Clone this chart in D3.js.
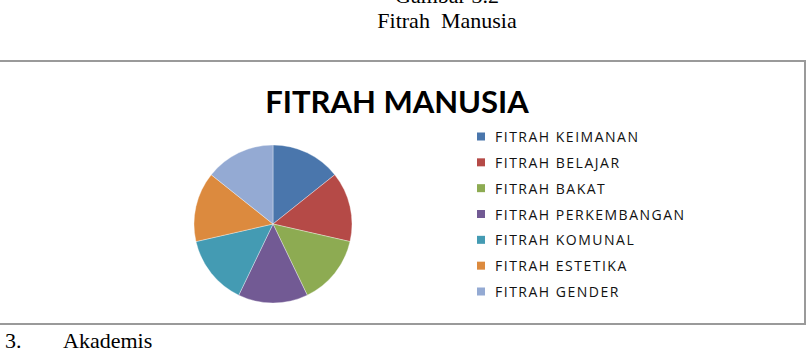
<!DOCTYPE html>
<html>
<head>
<meta charset="utf-8">
<script src="https://cdn.jsdelivr.net/npm/d3@7"></script>
<style>
  html, body { margin: 0; padding: 0; background: #fff; }
  svg { display: block; }
</style>
</head>
<body>
<div id="chart"></div>
<script>
// fitrah categories, all slices the same size
const categories = [
  "FITRAH KEIMANAN", "FITRAH BELAJAR", "FITRAH BAKAT", "FITRAH PERKEMBANGAN",
  "FITRAH KOMUNAL", "FITRAH ESTETIKA", "FITRAH GENDER"
];
const values = [1, 1, 1, 1, 1, 1, 1];
const colors = ["#4A76AC", "#B54A47", "#8DAB52", "#725A94", "#449BB3", "#DC8A3E", "#94AAD3"];

const WIDTH = 812;
const HEIGHT = 348;

const svg = d3.select("#chart").append("svg")
  .attr("width", WIDTH).attr("height", HEIGHT);

// document text around the chart (cut at the page edges like the scan)
const serif = "'Liberation Serif', 'Times New Roman', serif";
svg.append("text")
  .attr("x", 447).attr("y", 3)
  .attr("text-anchor", "middle")
  .style("font-family", serif).style("font-size", "22px")
  .text("Gambar 3.2");
svg.append("text")
  .attr("x", 447).attr("y", 28)
  .attr("text-anchor", "middle")
  .style("font-family", serif).style("font-size", "22px")
  .text("Fitrah\u00a0 Manusia");
svg.append("text")
  .attr("x", 5).attr("y", 348)
  .style("font-family", serif).style("font-size", "22px")
  .text("3.");
svg.append("text")
  .attr("x", 63).attr("y", 348)
  .style("font-family", serif).style("font-size", "22px")
  .text("Akademis");

// chart area frame
svg.append("rect")
  .attr("x", -10).attr("y", 61)
  .attr("width", 815).attr("height", 263)
  .attr("fill", "#fff")
  .attr("stroke", "#9a9a9a").attr("stroke-width", 2);

svg.append("text")
  .attr("x", 397).attr("y", 113)
  .attr("text-anchor", "middle")
  .style("font-family", "Lato, 'Open Sans', sans-serif")
  .style("font-weight", "bold").style("font-size", "31px")
  .text("FITRAH MANUSIA");

// pie
const pie = d3.pie().sort(null).value(d => d)(values);
const arc = d3.arc().innerRadius(0).outerRadius(79);

svg.append("g")
  .attr("transform", "translate(273,224)")
  .selectAll("path")
  .data(pie)
  .join("path")
  .attr("d", arc)
  .attr("fill", (d, i) => colors[i])
  .attr("stroke", "#ffffff").attr("stroke-opacity", 0.5).attr("stroke-width", 0.7);

// legend
const y = d3.scalePoint().domain(categories).range([137, 292]);
const legend = svg.append("g").selectAll("g")
  .data(categories)
  .join("g")
  .attr("transform", d => "translate(477," + y(d) + ")");

legend.append("rect")
  .attr("x", 0).attr("y", -4.5)
  .attr("width", 8).attr("height", 8)
  .attr("fill", (d, i) => colors[i]);

legend.append("text")
  .attr("x", 18).attr("y", 5)
  .style("font-family", "'Open Sans', sans-serif")
  .style("font-size", "14px")
  .style("letter-spacing", "1.5px")
  .attr("fill", "#111")
  .text(d => d);
</script>
</body>
</html>
